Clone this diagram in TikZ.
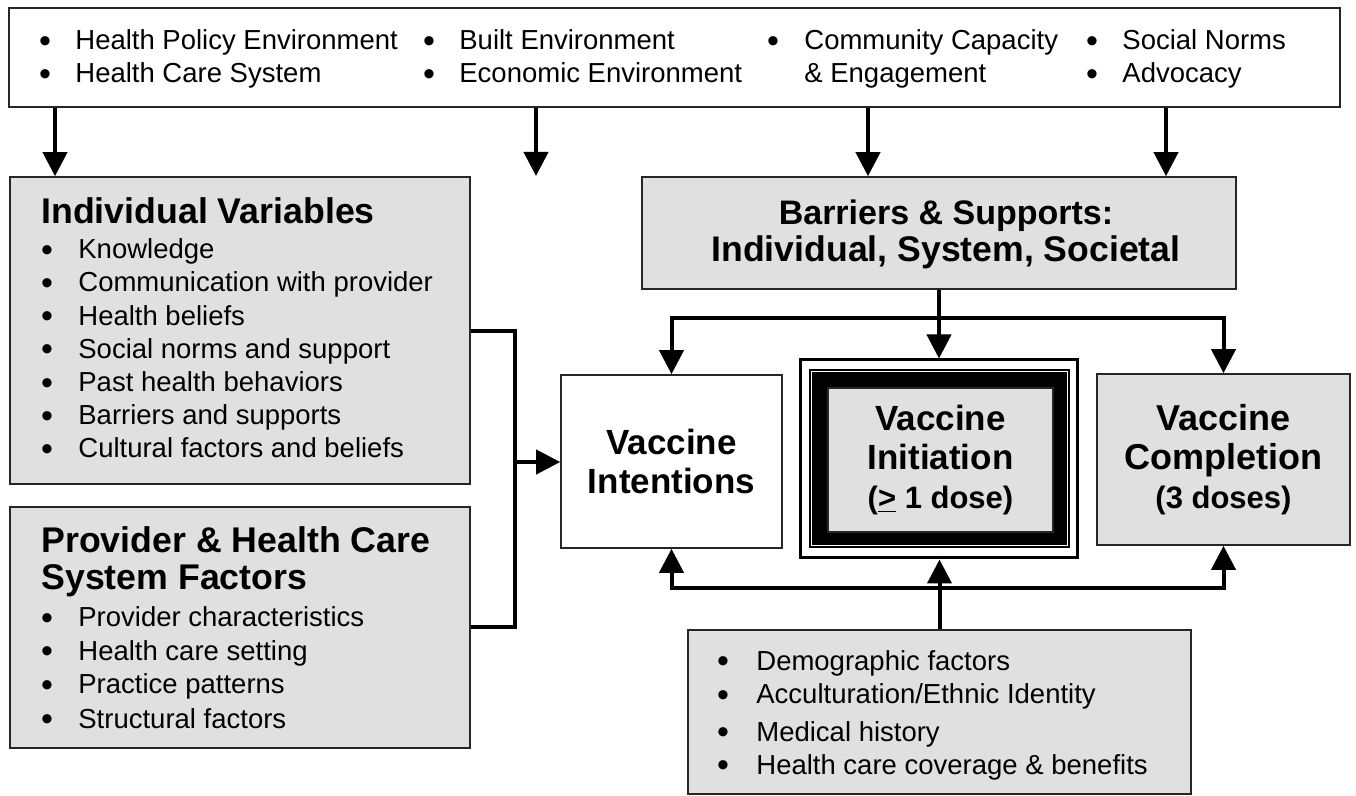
\documentclass[tikz,border=0pt]{standalone}
\usepackage{fontspec}
\setmainfont{Liberation Sans}
\usetikzlibrary{arrows.meta}
\newcommand{\bitem}[2][19pt]{\makebox[#1][l]{\hspace{0.4pt}\raisebox{-1.2pt}{\fontsize{17pt}{17pt}\selectfont\textbullet}}#2}

\begin{document}
\begin{tikzpicture}[x=0.5pt,y=-0.5pt,
    box/.style={draw=black!85,line width=0.8pt,inner sep=0pt},
    shaded/.style={box,fill=black!12},
    txt/.style={inner sep=0pt,anchor=base west,font=\fontsize{13.75pt}{16pt}\selectfont},
    head/.style={inner sep=0pt,anchor=base west,font=\fontsize{17.85pt}{19.5pt}\selectfont\bfseries},
    big/.style={align=center,font=\fontsize{17.5pt}{19.5pt}\selectfont\bfseries},
    arr/.style={line width=2pt,-{Triangle[length=12pt,width=12pt]}},
    link/.style={line width=2pt}]
    \useasboundingbox (0,0) rectangle (1356,796);

    \node [box,minimum width=665.5pt,minimum height=49.5pt] (ENV) at (674.5,57.5) {};
    \node [txt] (ENV1) at (38,50) {\bitem[18.5pt]{Health Policy Environment}};
    \node [txt] (ENV2) at (38,83) {\bitem[18.5pt]{Health Care System}};
    \node [txt] (ENV3) at (422,50) {\bitem[18.5pt]{Built Environment}};
    \node [txt] (ENV4) at (422,83) {\bitem[18.5pt]{Economic Environment}};
    \node [txt] (ENV5) at (766,50) {\bitem{Community Capacity}};
    \node [txt] (ENV6) at (804,83) {\& Engagement};
    \node [txt] (ENV7) at (1085,50) {\bitem[18.5pt]{Social Norms}};
    \node [txt] (ENV8) at (1085,83) {\bitem[18.5pt]{Advocacy}};

    \node [shaded,minimum width=230pt,minimum height=153.5pt] (IND) at (240,330.5) {};
    \node [head] (INDH) at (41,224) {Individual Variables};
    \node [txt] (IND1) at (40,259) {\bitem{Knowledge}};
    \node [txt] (IND2) at (40,292) {\bitem{Communication with provider}};
    \node [txt] (IND3) at (40,325.5) {\bitem{Health beliefs}};
    \node [txt] (IND4) at (40,358.5) {\bitem{Social norms and support}};
    \node [txt] (IND5) at (40,392) {\bitem{Past health behaviors}};
    \node [txt] (IND6) at (40,425) {\bitem{Barriers and supports}};
    \node [txt] (IND7) at (40,458) {\bitem{Cultural factors and beliefs}};

    \node [shaded,minimum width=230pt,minimum height=120.5pt] (PRO) at (240,627.5) {};
    \node [head] (PROH1) at (41,553) {Provider \& Health Care};
    \node [head] (PROH2) at (41,590) {System Factors};
    \node [txt] (PRO1) at (40,627) {\bitem{Provider characteristics}};
    \node [txt] (PRO2) at (40,660.5) {\bitem{Health care setting}};
    \node [txt] (PRO3) at (40,694) {\bitem{Practice patterns}};
    \node [txt] (PRO4) at (40,728) {\bitem{Structural factors}};

    \node [shaded,minimum width=297pt,minimum height=56pt] (BAR) at (939,233) {};
    \node [big,font=\fontsize{17.8pt}{18.5pt}\selectfont\bfseries,inner sep=0pt] (BART) at (946,234) {{\fontsize{17pt}{18.5pt}\selectfont Barriers \& Supports:}\\Individual, System, Societal};

    \node [box,big,fill=white,minimum width=110.5pt,minimum height=86.5pt] (INT) at (671.5,461.5) {Vaccine\\Intentions};

    \node [draw=black,line width=1.5pt,inner sep=0pt,minimum width=138.5pt,minimum height=99pt] (INI) at (939,459) {};
    \node [fill=black,inner sep=0pt,minimum width=130.5pt,minimum height=89.5pt] (INIB) at (939.5,458.5) {};
    \draw [white,line width=0.5pt] ([shift={(3,3)}]INIB.north west) rectangle ([shift={(-3,-3)}]INIB.south east);
    \node [shaded,big,minimum width=112.5pt,minimum height=72pt] (INIG) at (940.5,460) {Vaccine\\Initiation\\{\fontsize{15.5pt}{17pt}\selectfont(\underline{>} 1 dose)}};

    \node [shaded,big,font=\fontsize{18pt}{19.5pt}\selectfont\bfseries,minimum width=126.5pt,minimum height=85.5pt] (COM) at (1223.5,459.5) {Vaccine\\Completion\\{\fontsize{15.5pt}{17pt}\selectfont(3 doses)}};

    \node [shaded,minimum width=251.5pt,minimum height=82pt] (DEM) at (939.5,712) {};
    \node [txt] (DEM1) at (716,670) {\bitem[20pt]{Demographic factors}};
    \node [txt] (DEM2) at (716,704) {\bitem[20pt]{Acculturation/Ethnic Identity}};
    \node [txt] (DEM3) at (716,741) {\bitem[20pt]{Medical history}};
    \node [txt] (DEM4) at (716,774) {\bitem[20pt]{Health care coverage \& benefits}};

    \coordinate (FREE) at (536,176);
    \coordinate (SPLIT) at (939,318);
    \coordinate (JOIN) at (939,588);
    \coordinate (BRK) at (515,462);

    \draw [arr] (55,0 |- ENV.south) -- (55,0 |- IND.north);
    \draw [arr] (FREE |- ENV.south) -- (FREE);
    \draw [arr] (868,0 |- ENV.south) -- (868,0 |- BAR.north);
    \draw [arr] (1166,0 |- ENV.south) -- (1166,0 |- BAR.north);
    \draw [arr] (BAR.south) -- (BAR.south |- INI.north);
    \draw [arr] (SPLIT) -| (INT.north);
    \draw [arr] (SPLIT) -| (COM.north);
    \draw [arr] (DEM.north) -- (DEM.north |- INI.south);
    \draw [arr] (JOIN) -| (INT.south);
    \draw [arr] (JOIN) -| (COM.south);
    \draw [link] (IND.east |- 0,331) -| (BRK) |- (PRO.east |- 0,627);
    \draw [arr] (BRK) -- (BRK -| INT.west);
\end{tikzpicture}
\end{document}
